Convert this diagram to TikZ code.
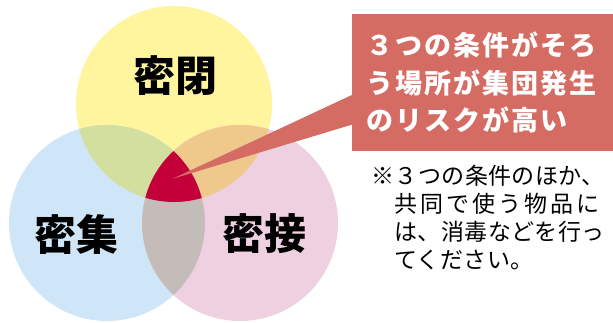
\documentclass[tikz,border=0pt]{standalone}
\usepackage{fontspec}
\setmainfont{Noto Sans CJK JP}
\usetikzlibrary{calc}
\definecolor{closedcol}{HTML}{FFF59F}
\definecolor{crowdcol}{HTML}{CFE6F8}
\definecolor{contactcol}{HTML}{EED0E1}
\definecolor{closedcrowd}{HTML}{D2DF9E}
\definecolor{closedcontact}{HTML}{EFC88C}
\definecolor{crowdcontact}{HTML}{C4BCB8}
\definecolor{allthree}{HTML}{C4003A}
\definecolor{calloutred}{HTML}{D46C64}
\tikzstyle{vennlabel}=[inner sep=0pt,font=\fontsize{42}{42}\selectfont\bfseries]
\tikzstyle{callout}=[fill=calloutred,text=white,anchor=north west,minimum height=137pt,
  text width=240pt,inner xsep=14pt,align=left,
  font=\fontsize{27}{37.5}\selectfont\bfseries\addfontfeature{LetterSpace=7.4}]
\tikzstyle{noteline}=[anchor=west,inner sep=0pt,font=\fontsize{23}{28}\selectfont\addfontfeature{LetterSpace=2}]
\def\rad{98pt}
\newcommand{\lens}[3]{% (clip centre) (fill centre) colour
  \begin{scope}
    \clip (#1) circle (\rad);
    \fill[#3] (#2) circle (\rad);
  \end{scope}
}
\begin{document}
\begin{tikzpicture}[x=1pt,y=-1pt]
  \useasboundingbox (0,0) rectangle (613,323);
  \coordinate (closed) at (174,104);
  \coordinate (crowd) at (107,223);
  \coordinate (contact) at (240,223);
  % the three circles
  \fill[closedcol] (closed) circle (\rad);
  \fill[crowdcol] (crowd) circle (\rad);
  \fill[contactcol] (contact) circle (\rad);
  % pairwise overlaps
  \lens{closed}{crowd}{closedcrowd}
  \lens{closed}{contact}{closedcontact}
  \lens{crowd}{contact}{crowdcontact}
  % all three
  \begin{scope}
    \clip (closed) circle (\rad);
    \clip (crowd) circle (\rad);
    \fill[allthree] (contact) circle (\rad);
  \end{scope}
  \node[vennlabel] (closedlabel) at (175,76) {密閉};
  \node[vennlabel] (crowdlabel) at (76,234) {密集};
  \node[vennlabel] (contactlabel) at (264,234) {密接};
  % callout
  \node[callout] (callout) at (352,14) {３つの条件がそろ\\う場所が集団発生\\のリスクが高い};
  \coordinate (tip) at (172,179);
  \fill[calloutred] (tip) -- ($(callout.north west)+(2,80)$) -- ($(callout.north west)+(2,110)$) -- cycle;
  % note
  \node[noteline] (note1) at (371,176) {※３つの条件のほか、};
  \node[noteline] (note2) at (394,204) {\addfontfeature{LetterSpace=13}共同で使う物品に};
  \node[noteline] (note3) at (394,232) {は、消毒などを行っ};
  \node[noteline] (note4) at (394,260) {てください。};
\end{tikzpicture}
\end{document}
